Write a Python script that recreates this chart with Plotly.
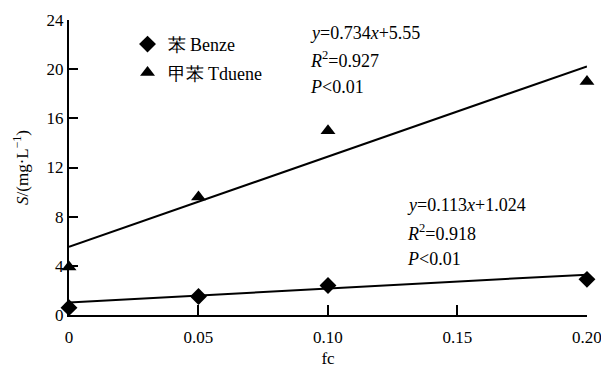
import plotly.graph_objects as go

fc = [0, 0.05, 0.10, 0.20]
benzene = [0.6, 1.5, 2.4, 2.9]
toluene = [3.9, 9.6, 15.0, 19.0]
fit_range = [0, 0.20]
benz_coef = [0.113, 1.024]   # slope per 0.01 fc, intercept
tolu_coef = [0.734, 5.55]
xtick_vals = [0, 0.05, 0.10, 0.15, 0.20]
xtick_text = ["0", "0.05", "0.10", "0.15", "0.20"]
ytick_vals = [0, 4, 8, 12, 16, 20, 24]

FONT = "Liberation Serif"

def fit(coef, xs):
    return [coef[0] * x * 100 + coef[1] for x in xs]

fig = go.Figure()
fig.add_trace(go.Scatter(x=fit_range, y=fit(tolu_coef, fit_range), mode="lines",
                         line=dict(color="black", width=2), showlegend=False, cliponaxis=False))
fig.add_trace(go.Scatter(x=fit_range, y=fit(benz_coef, fit_range), mode="lines",
                         line=dict(color="black", width=2), showlegend=False, cliponaxis=False))
fig.add_trace(go.Scatter(x=fc, y=benzene, mode="markers", name="苯 Benze",
                         marker=dict(symbol="diamond", size=13, color="black"),
                         cliponaxis=False, legendgroup="a"))
fig.add_trace(go.Scatter(x=fc, y=toluene, mode="markers", name="甲苯 Tduene",
                         marker=dict(symbol="triangle-up", size=13, color="black"),
                         cliponaxis=False, legendgroup="b"))

ann_font = dict(family=FONT, size=18, color="black")
tol_lines = ["<i>y</i>=0.734<i>x</i>+5.55", "<i>R</i><sup>2</sup>=0.927", "<i>P</i><0.01"]
ben_lines = ["<i>y</i>=0.113<i>x</i>+1.024", "<i>R</i><sup>2</sup>=0.918", "<i>P</i><0.01"]
tol_y = [22.94, 20.75, 18.55]
ben_y = [8.95, 6.75, 4.56]
for t, yy in zip(tol_lines, tol_y):
    fig.add_annotation(x=0.0923, y=yy, text=t, showarrow=False, xanchor="left",
                       yanchor="middle", font=ann_font)
for t, yy in zip(ben_lines, ben_y):
    fig.add_annotation(x=0.1297, y=yy, text=t, showarrow=False, xanchor="left",
                       yanchor="middle", font=ann_font)

fig.update_layout(
    width=601, height=372,
    margin=dict(l=69, r=14, t=20, b=57, autoexpand=False),
    paper_bgcolor="white", plot_bgcolor="white",
    font=dict(family=FONT, size=17, color="black"),
    legend=dict(x=0.113, y=0.98, xanchor="left", yanchor="top",
                font=dict(family=FONT, size=18, color="black"), tracegroupgap=2,
                bgcolor="rgba(0,0,0,0)", itemwidth=30),
    xaxis=dict(range=[0, 0.20001], tickvals=xtick_vals, ticktext=xtick_text,
               showline=True, linecolor="black", linewidth=2, ticks="inside",
               ticklen=10, tickwidth=2, tickcolor="black", showgrid=False, zeroline=False,
               automargin=False, ticklabeloverflow="allow", ticklabelstandoff=6,
               tickfont=dict(family=FONT, size=17, color="black"),
               title=dict(text="fc", font=dict(family=FONT, size=17, color="black"), standoff=6)),
    yaxis=dict(range=[0, 24], tickvals=ytick_vals,
               showline=True, linecolor="black", linewidth=2, ticks="inside",
               ticklen=9, tickwidth=2, tickcolor="black", showgrid=False, zeroline=False,
               automargin=False, ticklabeloverflow="allow",
               tickfont=dict(family=FONT, size=17, color="black"),
               title=dict(text="<i>S</i>/(mg·L<sup>−1</sup>)", font=dict(family=FONT, size=17, color="black"), standoff=14)),
)

fig.write_html("out.html", config={"displayModeBar": False},
               post_script="document.body.style.margin='0';document.body.style.padding='0';")
